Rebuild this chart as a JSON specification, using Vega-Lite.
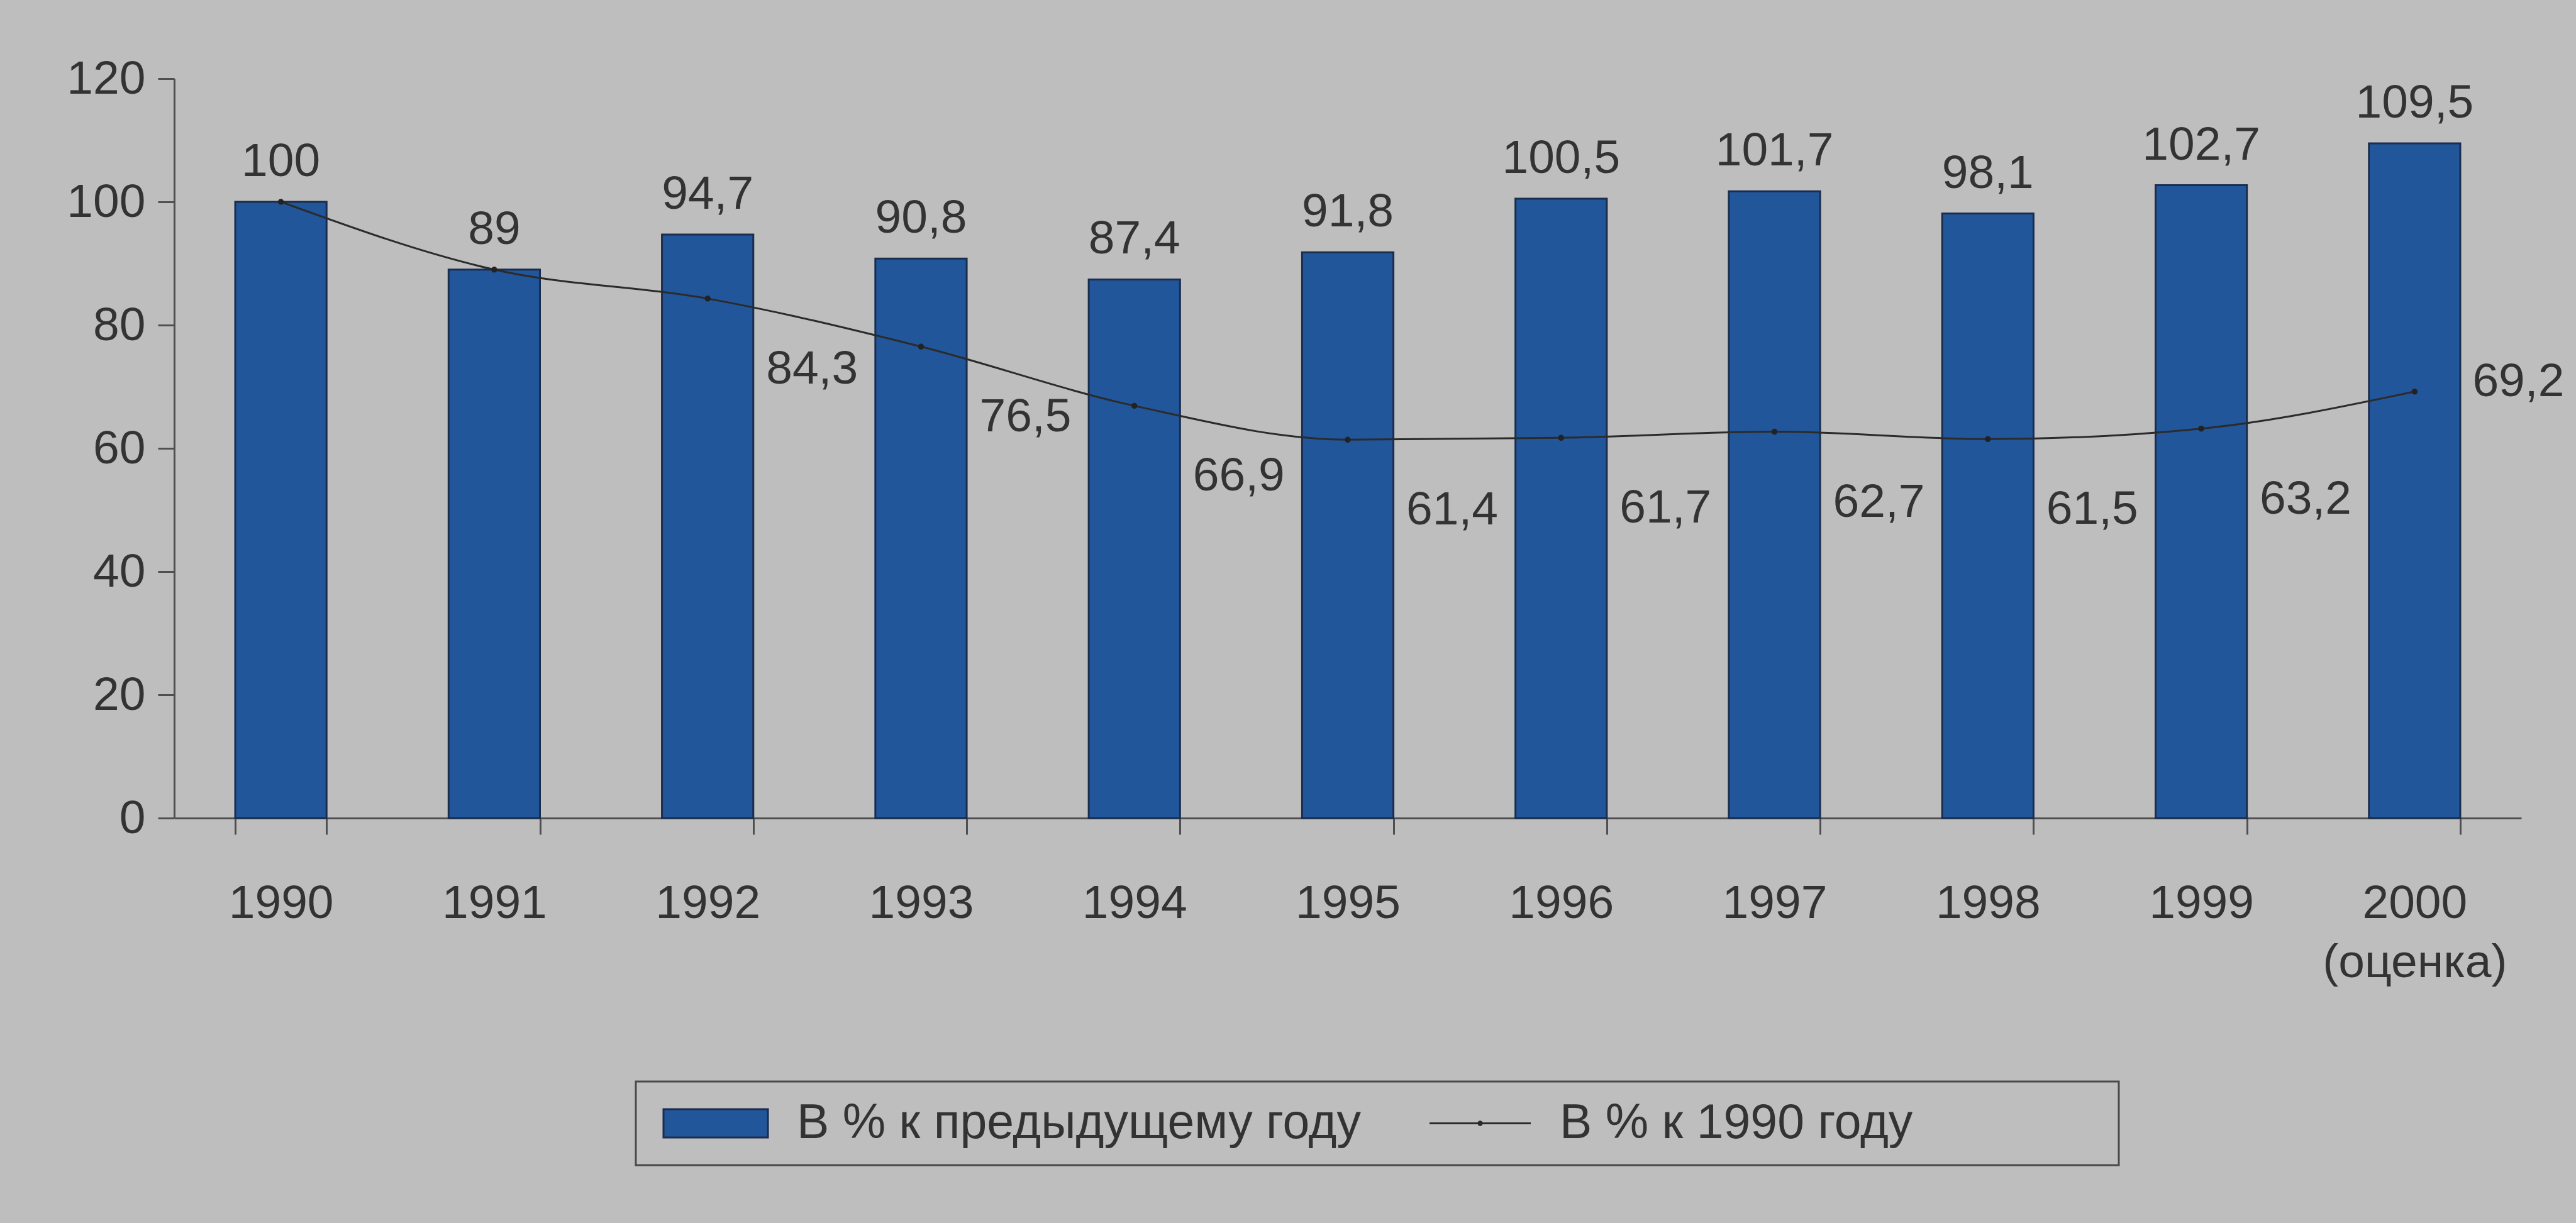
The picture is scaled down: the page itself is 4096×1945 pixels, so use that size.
{
  "$schema": "https://vega.github.io/schema/vega-lite/v6.json",
  "autosize": {"type": "none"},
  "padding": {"left": 277, "top": 125, "right": 87, "bottom": 644},
  "width": 3732,
  "height": 1176,
  "background": "#bebebe",
  "config": {
    "view": {"stroke": null},
    "font": "Liberation Sans",
    "locale": {"number": {"decimal": ",", "thousands": " ", "grouping": [3], "currency": ["", ""]}},
    "axis": {"grid": false, "title": null, "labelFont": "Liberation Sans", "labelColor": "#333333", "labelFontSize": 75, "domainColor": "#505050", "domainWidth": 3, "tickColor": "#505050", "tickWidth": 3, "tickSize": 26, "labelLimit": 0},
    "legend": {"strokeWidth": 3}
  },
  "datasets": {
    "bars": [
      {"year": "1990", "series": "В % к предыдущему году", "value": 100},
      {"year": "1991", "series": "В % к предыдущему году", "value": 89},
      {"year": "1992", "series": "В % к предыдущему году", "value": 94.7},
      {"year": "1993", "series": "В % к предыдущему году", "value": 90.8},
      {"year": "1994", "series": "В % к предыдущему году", "value": 87.4},
      {"year": "1995", "series": "В % к предыдущему году", "value": 91.8},
      {"year": "1996", "series": "В % к предыдущему году", "value": 100.5},
      {"year": "1997", "series": "В % к предыдущему году", "value": 101.7},
      {"year": "1998", "series": "В % к предыдущему году", "value": 98.1},
      {"year": "1999", "series": "В % к предыдущему году", "value": 102.7},
      {"year": "2000", "series": "В % к предыдущему году", "value": 109.5}
    ],
    "line": [
      {"year": "1990", "series": "В % к 1990 году", "value": 100},
      {"year": "1991", "series": "В % к 1990 году", "value": 89},
      {"year": "1992", "series": "В % к 1990 году", "value": 84.3},
      {"year": "1993", "series": "В % к 1990 году", "value": 76.5},
      {"year": "1994", "series": "В % к 1990 году", "value": 66.9},
      {"year": "1995", "series": "В % к 1990 году", "value": 61.4},
      {"year": "1996", "series": "В % к 1990 году", "value": 61.7},
      {"year": "1997", "series": "В % к 1990 году", "value": 62.7},
      {"year": "1998", "series": "В % к 1990 году", "value": 61.5},
      {"year": "1999", "series": "В % к 1990 году", "value": 63.2},
      {"year": "2000", "series": "В % к 1990 году", "value": 69.2}
    ]
  },
  "layer": [
    {
      "data": {"name": "bars"},
      "mark": {"type": "bar", "stroke": "#1a2d4d", "strokeWidth": 3},
      "encoding": {
        "x": {
          "field": "year", "type": "ordinal",
          "scale": {"paddingInner": 0.572, "paddingOuter": 0.286},
          "axis": {"labelAngle": 0, "tickBand": "extent", "labelPadding": 73, "labelBaseline": "top", "labelLineHeight": 94, "labelLimit": 0, "labelExpr": "datum.value == '2000' ? ['2000', '(оценка)'] : datum.value"}
        },
        "y": {
          "field": "value", "type": "quantitative",
          "scale": {"domain": [0, 120], "nice": false},
          "axis": {"values": [0, 20, 40, 60, 80, 100, 120], "labelPadding": 20}
        },
        "color": {
          "field": "series", "type": "nominal",
          "scale": {"domain": ["В % к предыдущему году"], "range": ["#22569b"]},
          "legend": {
            "title": null, "orient": "none", "legendX": 734, "legendY": 1595, "direction": "horizontal",
            "padding": 28, "strokeColor": "#4a4a4a",
            "labelFont": "Liberation Sans", "labelFontSize": 77, "labelColor": "#333333", "labelLimit": 5000,
            "labelOffset": 151, "symbolSize": 2025,
            "symbolType": "M-1,-1H6.38V1H-1Z", "symbolStrokeColor": "#1a2d4d", "symbolStrokeWidth": 3,
            "labelExpr": "datum.label + '\u2800\u2800\u2800\u2800\u2800\u2800\u2800\u2800\u2800\u2800\u2800\u2800\u2800\u2800\u2800\u2800\u2800\u2800\u2800\u2800\u2800'"
          }
        }
      }
    },
    {
      "data": {"name": "bars"},
      "mark": {"type": "text", "font": "Liberation Sans", "fontSize": 75, "color": "#333333", "baseline": "middle", "dy": -64},
      "encoding": {
        "x": {"field": "year", "type": "ordinal"},
        "y": {"field": "value", "type": "quantitative"},
        "text": {"field": "value", "type": "quantitative", "format": ".4~r"}
      }
    },
    {
      "data": {"name": "line"},
      "mark": {"type": "line", "interpolate": "monotone", "strokeWidth": 3},
      "encoding": {
        "x": {"field": "year", "type": "ordinal"},
        "y": {"field": "value", "type": "quantitative"},
        "stroke": {
          "field": "series", "type": "nominal",
          "scale": {"domain": ["В % к 1990 году"], "range": ["#2b2b2b"]},
          "legend": {
            "title": null, "orient": "none", "legendX": 1952, "legendY": 1595, "direction": "horizontal",
            "padding": 28, "strokeColor": "transparent",
            "labelFont": "Liberation Sans", "labelFontSize": 77, "labelColor": "#333333", "labelLimit": 5000,
            "labelOffset": 146, "symbolSize": 2025,
            "symbolType": "M-1,0H6.16M2.46,0A0.12,0.12,0,1,1,2.7,0A0.12,0.12,0,1,1,2.46,0Z",
            "symbolStrokeWidth": 3
          }
        }
      }
    },
    {
      "data": {"name": "line"},
      "mark": {"type": "point", "filled": true, "color": "#222222", "size": 90, "opacity": 1},
      "encoding": {
        "x": {"field": "year", "type": "ordinal"},
        "y": {"field": "value", "type": "quantitative"}
      }
    },
    {
      "data": {"name": "line"},
      "transform": [{"filter": "datum.year != '1990' && datum.year != '1991' && datum.year != '2000'"}],
      "mark": {"type": "text", "font": "Liberation Sans", "fontSize": 75, "color": "#333333", "baseline": "middle", "dx": 166, "dy": 112},
      "encoding": {
        "x": {"field": "year", "type": "ordinal"},
        "y": {"field": "value", "type": "quantitative"},
        "text": {"field": "value", "type": "quantitative", "format": ".4~r"}
      }
    },
    {
      "data": {"name": "line"},
      "transform": [{"filter": "datum.year == '2000'"}],
      "mark": {"type": "text", "font": "Liberation Sans", "fontSize": 75, "color": "#333333", "baseline": "middle", "dx": 165, "dy": -16},
      "encoding": {
        "x": {"field": "year", "type": "ordinal"},
        "y": {"field": "value", "type": "quantitative"},
        "text": {"field": "value", "type": "quantitative", "format": ".4~r"}
      }
    }
  ]
}
